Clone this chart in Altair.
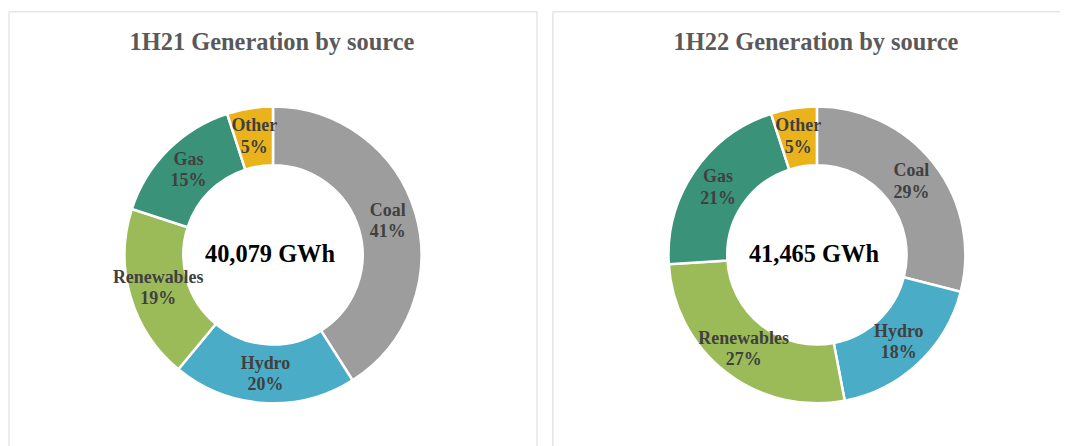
import altair as alt
import pandas as pd

sources = ["Coal", "Hydro", "Renewables", "Gas", "Other"]
share_1h21 = [41, 20, 19, 15, 5]
share_1h22 = [29, 18, 27, 21, 5]
colors = ["#9D9D9D", "#4AACC6", "#9BBB59", "#3A9278", "#EBB31B"]
titles = ["1H21 Generation by source", "1H22 Generation by source"]
totals = ["40,079 GWh", "41,465 GWh"]

PW1, PW2, PH = 530, 509, 428
CX, CY = 265, 244
SERIF = "Liberation Serif"
BORDER = "#D9D9D9"


def panel(values, title, total, width, right_border):
    df = pd.DataFrame({"source": sources, "share": values, "order": list(range(len(sources)))})
    df["label"] = df["source"] + "\n" + df["share"].astype(str) + "%"
    base = alt.Chart(df).encode(
        theta=alt.Theta("share:Q", stack=True),
        order=alt.Order("order:Q"),
        x=alt.value(CX),
        y=alt.value(CY),
    )
    arcs = base.mark_arc(innerRadius=90, outerRadius=149, stroke="white", strokeWidth=2.5).encode(
        color=alt.Color("source:N", scale=alt.Scale(domain=sources, range=colors), legend=None)
    )
    labels = base.mark_text(
        radius=120, font=SERIF, fontSize=18, fontWeight="bold", color="#404040",
        lineBreak="\n", lineHeight=21.5, align="center", baseline="middle", dy=-10.5,
    ).encode(text="label:N")

    tdf = pd.DataFrame({"t": [title]})
    ttl = alt.Chart(tdf).mark_text(
        font=SERIF, fontSize=24.5, fontWeight="bold", color="#595959", align="center", baseline="alphabetic"
    ).encode(x=alt.value(CX - 1), y=alt.value(38), text="t:N")

    cdf = pd.DataFrame({"t": [total]})
    ctr = alt.Chart(cdf).mark_text(
        font=SERIF, fontSize=24.5, fontWeight="bold", color="#000000", align="center", baseline="alphabetic"
    ).encode(x=alt.value(CX - 3), y=alt.value(CY + 7), text="t:N")

    bdf = pd.DataFrame({"k": [0]})
    layers = [
        alt.Chart(bdf).mark_rule(color=BORDER, strokeWidth=1).encode(
            x=alt.value(0), y=alt.value(0), y2=alt.value(PH + 8)),
        alt.Chart(bdf).mark_rule(color=BORDER, strokeWidth=1).encode(
            x=alt.value(0), x2=alt.value(width), y=alt.value(0)),
    ]
    if right_border:
        layers.append(alt.Chart(bdf).mark_rule(color=BORDER, strokeWidth=1).encode(
            x=alt.value(width), y=alt.value(0), y2=alt.value(PH + 8)))

    return alt.layer(*layers, arcs, labels, ttl, ctr).properties(width=width, height=PH)


left = panel(share_1h21, titles[0], totals[0], PW1, True)
right = panel(share_1h22, titles[1], totals[1], PW2, False)

chart = alt.hconcat(left, right, spacing=14).properties(
    padding={"left": 0, "top": 2, "right": 0, "bottom": 0}
).configure_view(stroke="transparent", strokeWidth=0)

chart.save("out.html", embed_options={"renderer": "svg", "actions": False})
